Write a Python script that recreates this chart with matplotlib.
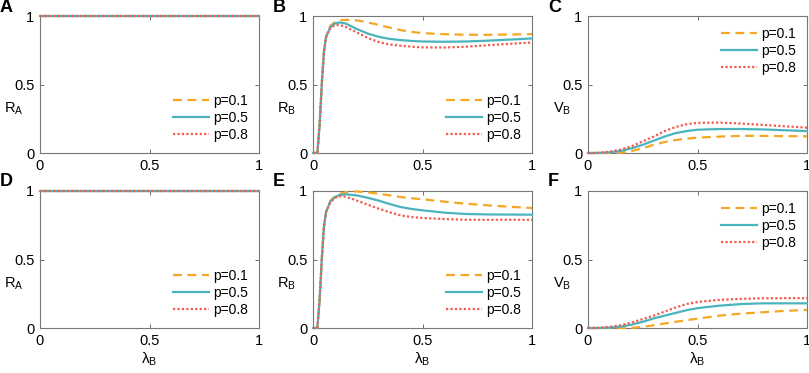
import matplotlib
matplotlib.use("Agg")
import matplotlib.pyplot as plt

plt.rcParams['font.family'] = ['Liberation Sans', 'DejaVu Sans']
plt.rcParams['mathtext.fontset'] = 'custom'
plt.rcParams['mathtext.rm'] = 'Liberation Sans'
plt.rcParams['mathtext.it'] = 'Liberation Sans'
plt.rcParams['mathtext.default'] = 'regular'

# lambda_B grid
lam = [0, 0.02, 0.03, 0.04, 0.05, 0.06, 0.08, 0.1, 0.12, 0.15, 0.2, 0.25,
       0.3, 0.35, 0.4, 0.45, 0.5, 0.6, 0.7, 0.8, 0.9, 1.0]

ra_all = [1.0] * len(lam)

# panel B (R_B, top row)
rb_top_01 = [0, 0, 0.2, 0.5, 0.74, 0.85, 0.93, 0.955, 0.968, 0.972, 0.968, 0.953,
             0.935, 0.915, 0.897, 0.884, 0.875, 0.867, 0.863, 0.863, 0.865, 0.868]
rb_top_05 = [0, 0, 0.2, 0.5, 0.74, 0.85, 0.92, 0.945, 0.953, 0.945, 0.905, 0.872,
             0.848, 0.833, 0.824, 0.818, 0.814, 0.812, 0.814, 0.82, 0.828, 0.836]
rb_top_08 = [0, 0, 0.2, 0.5, 0.74, 0.85, 0.915, 0.932, 0.935, 0.92, 0.88, 0.84,
             0.81, 0.792, 0.783, 0.776, 0.771, 0.77, 0.776, 0.787, 0.797, 0.807]

# panel C (V_B, top row)
vb_top_01 = [0, 0, 0, 0, 0, 0, 0, 0, 0, 0.002, 0.015, 0.035,
             0.06, 0.08, 0.095, 0.105, 0.112, 0.12, 0.125, 0.125, 0.123, 0.122]
vb_top_05 = [0, 0, 0, 0, 0.001, 0.001, 0.003, 0.005, 0.009, 0.015, 0.035, 0.06,
             0.09, 0.12, 0.145, 0.16, 0.17, 0.175, 0.175, 0.172, 0.166, 0.16]
vb_top_08 = [0, 0, 0, 0.001, 0.002, 0.003, 0.006, 0.01, 0.016, 0.025, 0.05, 0.085,
             0.12, 0.16, 0.19, 0.21, 0.22, 0.222, 0.215, 0.205, 0.195, 0.185]

# panel E (R_B, bottom row)
rb_bot_01 = [0, 0, 0.2, 0.5, 0.74, 0.85, 0.93, 0.96, 0.978, 0.992, 0.997, 0.99,
             0.98, 0.968, 0.956, 0.947, 0.94, 0.922, 0.907, 0.895, 0.885, 0.876]
rb_bot_05 = [0, 0, 0.2, 0.5, 0.74, 0.85, 0.925, 0.955, 0.97, 0.976, 0.968, 0.95,
             0.93, 0.905, 0.883, 0.869, 0.859, 0.842, 0.832, 0.829, 0.828, 0.827]
rb_bot_08 = [0, 0, 0.2, 0.5, 0.74, 0.85, 0.92, 0.95, 0.962, 0.958, 0.93, 0.9,
             0.871, 0.845, 0.822, 0.81, 0.803, 0.795, 0.79, 0.79, 0.79, 0.79]

# panel F (V_B, bottom row)
vb_bot_01 = [0, 0, 0, 0, 0, 0, 0, 0, 0, 0, 0.001, 0.008,
             0.02, 0.033, 0.045, 0.057, 0.068, 0.09, 0.105, 0.115, 0.125, 0.132]
vb_bot_05 = [0, 0, 0, 0, 0, 0.001, 0.002, 0.003, 0.006, 0.01, 0.025, 0.045,
             0.07, 0.09, 0.11, 0.13, 0.145, 0.163, 0.175, 0.18, 0.18, 0.18]
vb_bot_08 = [0, 0, 0, 0.001, 0.002, 0.003, 0.005, 0.008, 0.013, 0.02, 0.04, 0.065,
             0.09, 0.12, 0.15, 0.175, 0.19, 0.205, 0.213, 0.217, 0.218, 0.218]

p_labels = ['p=0.1', 'p=0.5', 'p=0.8']
colors = ['#F5A623', '#4AB4BE', '#F35B4C']
styles = [(0, (4, 2.5)), '-', (0, (1, 1))]

panels = [
    ('A', r'R$_{A}$', [ra_all, ra_all, ra_all], 'lower right'),
    ('B', r'R$_{B}$', [rb_top_01, rb_top_05, rb_top_08], 'lower right'),
    ('C', r'V$_{B}$', [vb_top_01, vb_top_05, vb_top_08], 'upper right'),
    ('D', r'R$_{A}$', [ra_all, ra_all, ra_all], 'lower right'),
    ('E', r'R$_{B}$', [rb_bot_01, rb_bot_05, rb_bot_08], 'lower right'),
    ('F', r'V$_{B}$', [vb_bot_01, vb_bot_05, vb_bot_08], 'upper right'),
]

W, H = 809, 373
fig = plt.figure(figsize=(W / 100, H / 100), dpi=100)

lefts = [40, 313, 588]
tops = [16, 191]
aw, ah = 219, 137

for i, (letter, ylab, series, loc) in enumerate(panels):
    row, col = divmod(i, 3)
    x0, y0 = lefts[col], tops[row]
    ax = fig.add_axes([x0 / W, 1 - (y0 + ah) / H, aw / W, ah / H])
    for s, lab, c, ls in zip(series, p_labels, colors, styles):
        ax.plot(lam, s, color=c, linestyle=ls, linewidth=1.6, label=lab,
                clip_on=False, zorder=3)
    ax.set_xlim(0, 1)
    ax.set_ylim(0, 1)
    ax.set_xticks([0, 0.5, 1])
    ax.set_yticks([0, 0.5, 1])
    ax.set_xticklabels(['0', '0.5', '1'])
    ax.set_yticklabels(['0', '0.5', '1'])
    ax.tick_params(direction='in', top=True, right=True, length=3, width=0.6,
                   color='#555555', labelsize=10.5, pad=4)
    for sp in ax.spines.values():
        sp.set_color('#777777')
        sp.set_linewidth(0.8)
    ax.set_ylabel(ylab, rotation=0, fontsize=10.5, ha='center', va='center')
    ax.yaxis.set_label_coords(-0.12, 0.32)
    if row == 1:
        ax.set_xlabel(r'$\lambda_{B}$', fontsize=11, labelpad=2)
    ax.legend(loc=loc, frameon=False, fontsize=10, handlelength=2.6,
              handletextpad=0.3, labelspacing=0.2, borderaxespad=0.4)
    fig.text((x0 - 40) / W, 1 - (y0 - 9) / H, letter, fontsize=13,
             fontweight='bold', ha='left', va='center')

fig.savefig('out.png', dpi=100)
